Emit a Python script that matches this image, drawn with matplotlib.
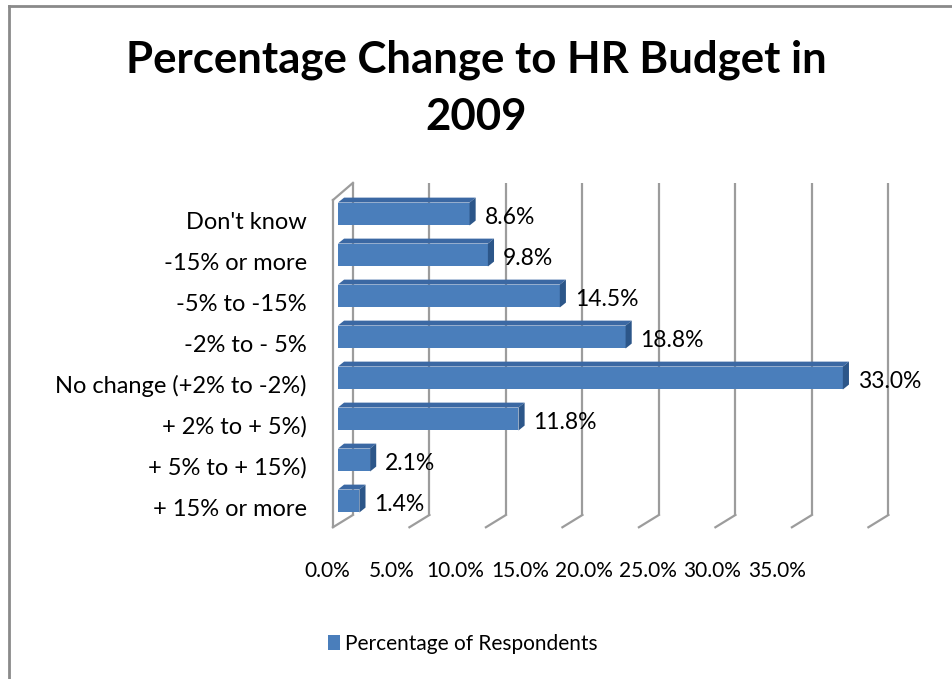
import matplotlib.pyplot as plt
from matplotlib.patches import Polygon, Rectangle
from matplotlib.lines import Line2D

# survey answers, bottom to top
categories = ["+ 15% or more", "+ 5% to + 15%)", "+ 2% to + 5%)", "No change (+2% to -2%)",
              "-2% to - 5%", "-5% to -15%", "-15% or more", "Don't know"]
values = [1.4, 2.1, 11.8, 33.0, 18.8, 14.5, 9.8, 8.6]
ticks = [0, 5, 10, 15, 20, 25, 30, 35]
title = "Percentage Change to HR Budget in\n2009"
series_name = "Percentage of Respondents"

W, H = 953, 679
FONT = "Lato"
FRONT = "#4A7EBB"
TOP = "#3B68A3"
SIDE = "#2C5689"
GRID = "#9C9C9C"

fig = plt.figure(figsize=(W / 100, H / 100), dpi=100)
ax = fig.add_axes([0, 0, 1, 1])
ax.set_xlim(-22.09, 40.20)
ax.set_ylim(-4.341, 12.22)
ax.axis("off")

# 3d box: back wall, floor and the left side
wall_dx, wall_top, wall_bot = 0.98, 7.76, -0.34
floor_dx, floor_bot, side_top = -0.33, -0.64, 7.34
for t in ticks:
    ax.plot([t + wall_dx, t + wall_dx], [wall_bot, wall_top], color=GRID, lw=1.6,
            solid_capstyle="butt", zorder=1)
    ax.plot([t + wall_dx, t + floor_dx], [wall_bot, floor_bot], color=GRID, lw=1.6, zorder=1)
ax.plot([floor_dx, floor_dx], [floor_bot, side_top], color=GRID, lw=1.6, zorder=1)
ax.plot([floor_dx, wall_dx], [side_top, wall_top], color=GRID, lw=1.6, zorder=1)

# bars drawn as front face + top + right side
h, dx, dy = 0.28, 0.40, 0.12
for i, v in enumerate(values):
    ax.add_patch(Rectangle((0, i - h), v, 2 * h, facecolor=FRONT, edgecolor="none", zorder=3))
    ax.add_patch(Polygon([(0, i + h), (v, i + h), (v + dx, i + h + dy), (dx, i + h + dy)],
                         closed=True, facecolor=TOP, edgecolor="none", zorder=3))
    ax.add_patch(Polygon([(v, i - h), (v + dx, i - h + dy), (v + dx, i + h + dy), (v, i + h)],
                         closed=True, facecolor=SIDE, edgecolor="none", zorder=3))
    ax.text(v + 0.98, i - 0.245, f"{v:.1f}%", ha="left", va="baseline",
            fontsize=16.5, family=FONT, zorder=4)
    ax.text(-2.03, i - 0.354, categories[i], ha="right", va="baseline",
            fontsize=17, family=FONT)

# value axis labels
for k, t in enumerate(ticks):
    ax.text(-0.72 + 4.2 * k, -1.854, f"{t:.1f}%", ha="center", va="baseline",
            fontsize=15, family=FONT)

for n, line in enumerate(title.split("\n")):
    fig.text(476 / W, 1 - (72 + 58 * n) / H, line, ha="center", va="baseline",
             fontsize=31.5, fontweight="bold", family=FONT)

# legend
fig.patches.append(Rectangle((328 / W, 1 - 650 / H), 12 / W, 15 / H, facecolor=FRONT,
                             edgecolor="none", transform=fig.transFigure))
fig.text(345 / W, 1 - 650 / H, series_name, ha="left", va="baseline", fontsize=15,
         family=FONT)

# chart border
fig.lines.append(Line2D([9 / W, 1], [1 - 6 / H, 1 - 6 / H], color="#8A8A8A", lw=2,
                        transform=fig.transFigure))
fig.lines.append(Line2D([9 / W, 9 / W], [0, 1 - 6 / H], color="#8A8A8A", lw=2,
                        transform=fig.transFigure))

fig.savefig("out.png", dpi=100)
